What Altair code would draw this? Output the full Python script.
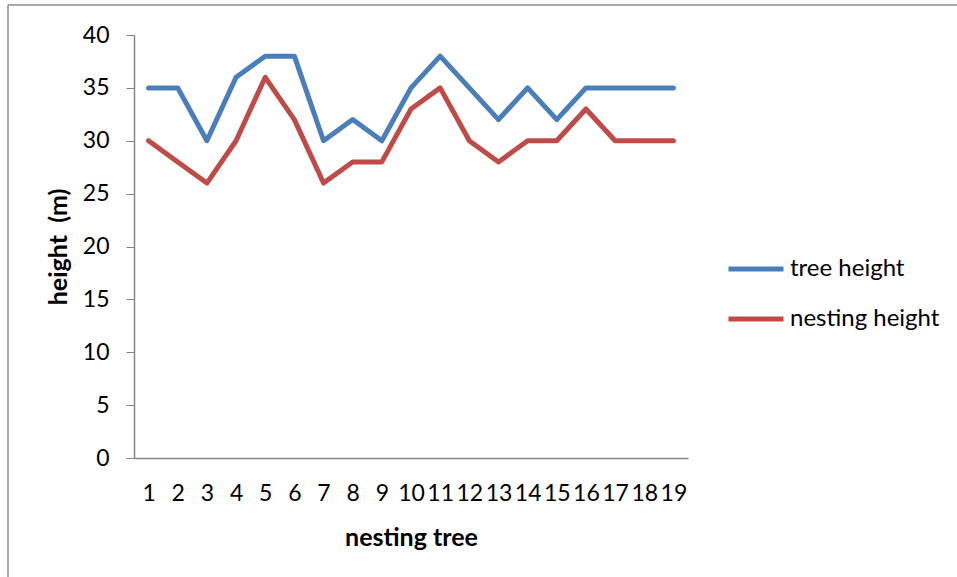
import altair as alt
import pandas as pd

trees = list(range(1, 20))
tree_height = [35, 35, 30, 36, 38, 38, 30, 32, 30, 35, 38, 35, 32, 35, 32, 35, 35, 35, 35]
nesting_height = [30, 28, 26, 30, 36, 32, 26, 28, 28, 33, 35, 30, 28, 30, 30, 33, 30, 30, 30]
series_names = ["tree height", "nesting height"]
series_colors = ["#4A7EBB", "#BE4B48"]

rows = []
for t, a, b in zip(trees, tree_height, nesting_height):
    rows.append({"tree": t, "series": series_names[0], "value": a})
    rows.append({"tree": t, "series": series_names[1], "value": b})
df = pd.DataFrame(rows)

FONT = "Lato"
L, T, R, B = 134, 35, 269, 119
W = 957 - L - R
H = 577 - T - B

lines = alt.Chart(df).mark_line(strokeWidth=5, strokeCap="round", strokeJoin="round").encode(
    x=alt.X("tree:O", scale=alt.Scale(type="point", padding=0.5),
            axis=alt.Axis(title="nesting tree", labelAngle=0, ticks=False, labelPadding=24,
                          titlePadding=20, domainColor="#868686", domainWidth=1.5)),
    y=alt.Y("value:Q", scale=alt.Scale(domain=[0, 40], nice=False),
            axis=alt.Axis(title="height\u00a0\u00a0(m)", values=list(range(0, 41, 5)), grid=False,
                          tickSize=8, tickColor="#868686", domainColor="#868686",
                          domainWidth=1.5, labelPadding=17, titlePadding=11)),
    color=alt.Color("series:N", sort=series_names,
                    scale=alt.Scale(domain=series_names, range=series_colors),
                    legend=alt.Legend(title=None, orient="none", legendX=592, legendY=204,
                                      symbolType="stroke", symbolSize=3025, symbolStrokeWidth=5,
                                      rowPadding=8, labelOffset=4)),
    order="tree:O",
)

border_top = alt.Chart(pd.DataFrame({"a": [0]})).mark_rule(color="#8c8c8c", strokeWidth=1.5).encode(
    x=alt.value(-126), x2=alt.value(957), y=alt.value(-30))
border_left = alt.Chart(pd.DataFrame({"a": [0]})).mark_rule(color="#8c8c8c", strokeWidth=1.5).encode(
    x=alt.value(-126), y=alt.value(-30), y2=alt.value(600))

chart = alt.layer(border_top, border_left, lines).properties(
    width=W, height=H,
    autosize=alt.AutoSizeParams(type="none"),
    padding={"left": L, "top": T, "right": R, "bottom": B},
).configure_view(stroke=None).configure_axis(
    labelFont=FONT, labelFontSize=23, labelColor="#000000",
    titleFont=FONT, titleFontSize=25, titleFontWeight="bold", titleColor="#000000",
).configure_legend(labelFont=FONT, labelFontSize=24, labelColor="#000000")

chart.save("out.html", embed_options={"renderer": "svg", "actions": False})
